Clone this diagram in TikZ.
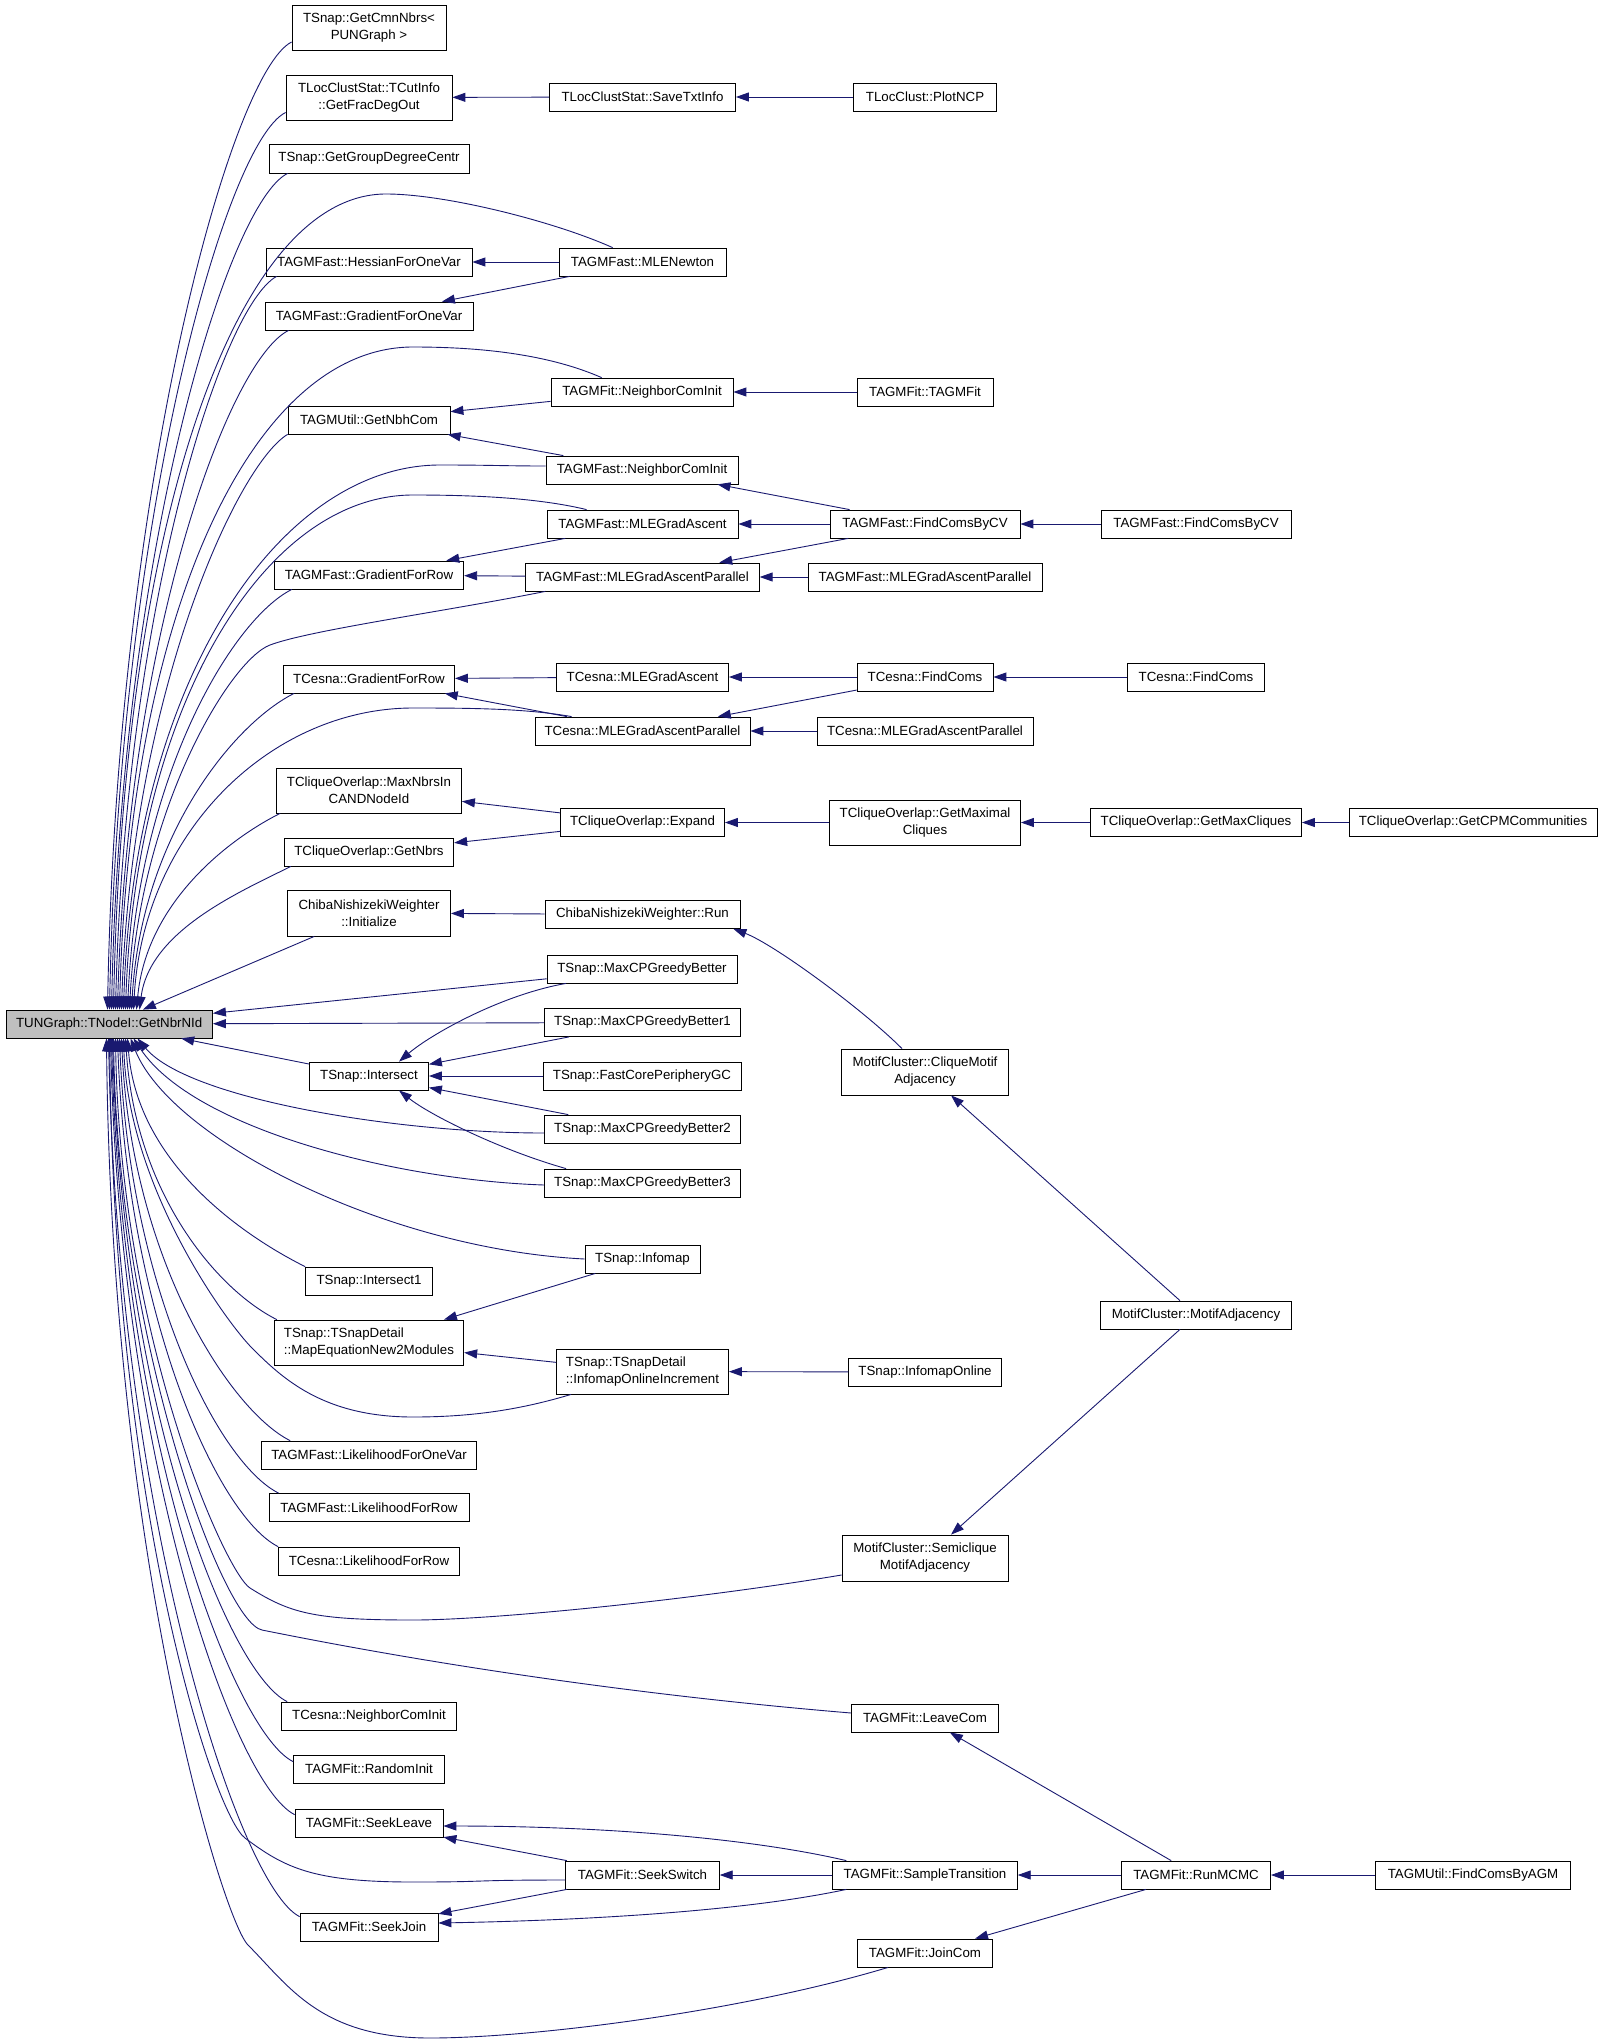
\documentclass[tikz,border=0pt]{standalone}
\usepackage{fontspec}
\setmainfont{Liberation Sans}
\usetikzlibrary{arrows.meta}
\definecolor{edgeblue}{HTML}{191970}
\definecolor{rootgray}{HTML}{BFBFBF}
\begin{document}
\begin{tikzpicture}[x=1pt,y=-1pt,
  fn/.style={draw=black, line width=0.8pt, fill=white, inner sep=0pt,
    minimum height=28pt, align=center, font=\fontsize{13.3}{17}\selectfont},
  fntwo/.style={fn, minimum height=45pt},
  calledge/.style={draw=edgeblue, line width=0.9pt, -{Triangle[length=13pt,width=9pt]}}]
\fill[white] (0,0) rectangle (1603,2044);
\useasboundingbox (0,0) rectangle (1603,2044);

% ---------- root ----------
\node[fn, fill=rootgray, minimum width=206.6pt] (root) at (109.2,1024) {TUNGraph::TNodeI::GetNbrNId};

% ---------- column 1 ----------
\node[fntwo, minimum width=154pt] (cmn) at (369,28) {TSnap::GetCmnNbrs<\\PUNGraph >};
\node[fntwo, minimum width=166pt] (frac) at (369,97.5) {TLocClustStat::TCutInfo\\::GetFracDegOut};
\node[fn, minimum width=200pt, minimum height=29pt] (grpdeg) at (369,158.5) {TSnap::GetGroupDegreeCentr};
\node[fn, minimum width=206pt] (hess) at (369,262) {TAGMFast::HessianForOneVar};
\node[fn, minimum width=208pt] (gradov) at (369,316) {TAGMFast::GradientForOneVar};
\node[fn, minimum width=162pt] (nbh) at (369,420) {TAGMUtil::GetNbhCom};
\node[fn, minimum width=189.5pt] (fgrad) at (369,575) {TAGMFast::GradientForRow};
\node[fn, minimum width=171pt] (cgrad) at (369,679) {TCesna::GradientForRow};
\node[fntwo, minimum width=185pt] (maxnbrs) at (369,790.5) {TCliqueOverlap::MaxNbrsIn\\CANDNodeId};
\node[fn, minimum width=169.5pt] (getnbrs) at (369,852) {TCliqueOverlap::GetNbrs};
\node[fntwo, minimum width=163pt, minimum height=46pt] (cinit) at (369,913) {ChibaNishizekiWeighter\\::Initialize};
\node[fn, minimum width=119pt] (inter) at (369,1076) {TSnap::Intersect};
\node[fn, minimum width=127pt] (inter1) at (369,1281) {TSnap::Intersect1};
\node[fntwo, minimum width=189.5pt, align=left] (mapeq) at (369,1342.5) {TSnap::TSnapDetail\\::MapEquationNew2Modules};
\node[fn, minimum width=215pt] (likov) at (369,1455) {TAGMFast::LikelihoodForOneVar};
\node[fn, minimum width=200pt] (flikrow) at (369,1507.5) {TAGMFast::LikelihoodForRow};
\node[fn, minimum width=181pt] (clikrow) at (369,1561) {TCesna::LikelihoodForRow};
\node[fn, minimum width=175pt] (cnci) at (369,1716) {TCesna::NeighborComInit};
\node[fn, minimum width=151pt] (rinit) at (369,1769) {TAGMFit::RandomInit};
\node[fn, minimum width=148pt] (sleave) at (369,1823) {TAGMFit::SeekLeave};
\node[fn, minimum width=138pt] (sjoin) at (369,1927) {TAGMFit::SeekJoin};

% ---------- column 2 ----------
\node[fn, minimum width=186pt] (save) at (642.5,97) {TLocClustStat::SaveTxtInfo};
\node[fn, minimum width=167pt] (mlen) at (642.5,262) {TAGMFast::MLENewton};
\node[fn, minimum width=182pt] (fitnci) at (642,392) {TAGMFit::NeighborComInit};
\node[fn, minimum width=192pt] (fastnci) at (642,470) {TAGMFast::NeighborComInit};
\node[fn, minimum width=191pt] (fmlega) at (642.5,524) {TAGMFast::MLEGradAscent};
\node[fn, minimum width=233.5pt] (fmlegap) at (642.5,577) {TAGMFast::MLEGradAscentParallel};
\node[fn, minimum width=172pt] (cmlega) at (642.5,677) {TCesna::MLEGradAscent};
\node[fn, minimum width=215pt] (cmlegap) at (642.5,731) {TCesna::MLEGradAscentParallel};
\node[fn, minimum width=164pt] (expand) at (642.5,822.5) {TCliqueOverlap::Expand};
\node[fn, minimum width=195pt] (run) at (642.5,914.5) {ChibaNishizekiWeighter::Run};
\node[fn, minimum width=190pt] (mcp) at (642,969) {TSnap::MaxCPGreedyBetter};
\node[fn, minimum width=196pt] (mcp1) at (642.5,1022.5) {TSnap::MaxCPGreedyBetter1};
\node[fn, minimum width=198pt] (fcp) at (642,1076) {TSnap::FastCorePeripheryGC};
\node[fn, minimum width=196pt] (mcp2) at (642.5,1129) {TSnap::MaxCPGreedyBetter2};
\node[fn, minimum width=196pt] (mcp3) at (642.5,1183) {TSnap::MaxCPGreedyBetter3};
\node[fn, minimum width=115pt] (infomap) at (642.5,1259) {TSnap::Infomap};
\node[fntwo, minimum width=172pt, align=left] (ioinc) at (642.5,1371.5) {TSnap::TSnapDetail\\::InfomapOnlineIncrement};
\node[fn, minimum width=153.6pt] (sswitch) at (642.5,1875) {TAGMFit::SeekSwitch};

% ---------- column 3 ----------
\node[fn, minimum width=143pt] (plotncp) at (925,97) {TLocClust::PlotNCP};
\node[fn, minimum width=136pt] (tagmfit) at (925,392) {TAGMFit::TAGMFit};
\node[fn, minimum width=190pt] (fcv1) at (925,524) {TAGMFast::FindComsByCV};
\node[fn, minimum width=234pt] (fmlegap2) at (925,577) {TAGMFast::MLEGradAscentParallel};
\node[fn, minimum width=136pt] (cfind1) at (925,677) {TCesna::FindComs};
\node[fn, minimum width=216pt] (cmlegap2) at (925,731) {TCesna::MLEGradAscentParallel};
\node[fntwo, minimum width=191pt] (maxcliq) at (925,822.5) {TCliqueOverlap::GetMaximal\\Cliques};
\node[fntwo, minimum width=167pt, minimum height=46pt] (cliquem) at (925,1072) {MotifCluster::CliqueMotif\\Adjacency};
\node[fn, minimum width=152.5pt] (ioonline) at (925,1372) {TSnap::InfomapOnline};
\node[fntwo, minimum width=166pt, minimum height=46pt] (semi) at (925,1558) {MotifCluster::Semiclique\\MotifAdjacency};
\node[fn, minimum width=147pt] (leave) at (925,1718) {TAGMFit::LeaveCom};
\node[fn, minimum width=184.6pt] (stran) at (925,1875) {TAGMFit::SampleTransition};
\node[fn, minimum width=135pt] (join) at (925,1953) {TAGMFit::JoinCom};

% ---------- column 4 ----------
\node[fn, minimum width=190pt] (fcv2) at (1196,524) {TAGMFast::FindComsByCV};
\node[fn, minimum width=136.5pt] (cfind2) at (1196,677) {TCesna::FindComs};
\node[fn, minimum width=211pt] (maxcl2) at (1196,822.5) {TCliqueOverlap::GetMaxCliques};
\node[fn, minimum width=191pt] (motifadj) at (1196,1315) {MotifCluster::MotifAdjacency};
\node[fn, minimum width=149pt] (runmcmc) at (1196,1875) {TAGMFit::RunMCMC};

% ---------- column 5 ----------
\node[fn, minimum width=248pt] (cpm) at (1473,822.5) {TCliqueOverlap::GetCPMCommunities};
\node[fn, minimum width=195pt] (agm) at (1473,1875) {TAGMUtil::FindComsByAGM};

% ================= edges into root (from above) =================
\draw[calledge] ([yshift=-14pt]cmn.west) .. controls +(-60,30) and +(10,-532) .. ([xshift=102pt]root.north west);
\draw[calledge] ([yshift=-15pt]frac.west) .. controls +(-60,30) and +(10,-493) .. ([xshift=104pt]root.north west);
\draw[calledge] ([xshift=19pt]grpdeg.south west) .. controls +(-60,30) and +(10,-460) .. ([xshift=106pt]root.north west);
\draw[calledge] ([xshift=54pt]mlen.north west) .. controls +(-58,-26) and +(60,0) .. (386,194) .. controls +(-150,0) and +(10,-490) .. ([xshift=108pt]root.north west);
\draw[calledge] ([xshift=11pt]hess.south west) .. controls +(-55,30) and +(10,-404) .. ([xshift=110pt]root.north west);
\draw[calledge] ([xshift=24pt]gradov.south west) .. controls +(-60,30) and +(10,-374) .. ([xshift=112pt]root.north west);
\draw[calledge] ([xshift=51pt]fitnci.north west) .. controls +(-57,-25) and +(60,0) .. (413,347) .. controls +(-160,0) and +(10,-400) .. ([xshift=114pt]root.north west);
\draw[calledge] (nbh.south west) .. controls +(-50,30) and +(10,-317) .. ([xshift=116pt]root.north west);
\draw[calledge] ([yshift=4pt]fastnci.west) .. controls +(-40,0) and +(50,0) .. (440,465) .. controls +(-160,0) and +(10,-330) .. ([xshift=118pt]root.north west);
\draw[calledge] ([xshift=40pt]fmlega.north west) .. controls +(-50,-12) and +(60,0) .. (413,495) .. controls +(-150,0) and +(10,-300) .. ([xshift=120pt]root.north west);
\draw[calledge] ([xshift=18pt]fgrad.south west) .. controls +(-60,30) and +(10,-232) .. ([xshift=122pt]root.north west);
\draw[calledge] ([xshift=20pt]fmlegap.south west) .. controls +(-100,20) and +(40,-15) .. (270,645) .. controls +(-40,15) and +(10,-200) .. ([xshift=124pt]root.north west);
\draw[calledge] ([xshift=11pt]cgrad.south west) .. controls +(-60,30) and +(10,-174) .. ([xshift=126pt]root.north west);
\draw[calledge] ([xshift=37pt]cmlegap.north west) .. controls +(-45,-8) and +(60,0) .. (413,708) .. controls +(-140,0) and +(10,-180) .. ([xshift=128pt]root.north west);
\draw[calledge] ([xshift=4pt]maxnbrs.south west) .. controls +(-50,25) and +(10,-108) .. ([xshift=131pt]root.north west);
\draw[calledge] ([xshift=7pt]getnbrs.south west) .. controls +(-50,25) and +(10,-79) .. ([xshift=134pt]root.north west);
\draw[calledge] (cinit) -- (root);
\draw[calledge] (mcp) -- (root);
\draw[calledge] (mcp1) -- (root);
\draw[calledge] (inter) -- (root);

% ================= edges into root (from below) =================
\draw[calledge] ([yshift=-4pt]mcp2.west) .. controls +(-150,0) and +(50,60) .. ([xshift=132pt]root.south west);
\draw[calledge] ([yshift=-2pt]mcp3.west) .. controls +(-150,-5) and +(60,90) .. ([xshift=128pt]root.south west);
\draw[calledge] (infomap.west) .. controls +(-200,-10) and +(40,100) .. ([xshift=125pt]root.south west);
\draw[calledge] (inter1.north west) .. controls +(-60,-30) and +(10,126) .. ([xshift=122pt]root.south west);
\draw[calledge] ([xshift=3pt]mapeq.north west) .. controls +(-60,-30) and +(10,155) .. ([xshift=120pt]root.south west);
\draw[calledge] ([xshift=15pt]ioinc.south west) .. controls +(-50,15) and +(60,0) .. (413,1417) .. controls +(-90,0) and +(30,30) .. (252,1348) .. controls +(-25,-25) and +(5,150) .. ([xshift=118pt]root.south west);
\draw[calledge] ([xshift=29pt]likov.north west) .. controls +(-60,-30) and +(10,221) .. ([xshift=116pt]root.south west);
\draw[calledge] ([xshift=10pt]flikrow.north west) .. controls +(-60,-30) and +(10,250) .. ([xshift=114pt]root.south west);
\draw[calledge] (clikrow.north west) .. controls +(-60,-30) and +(10,280) .. ([xshift=112pt]root.south west);
\draw[calledge] ([yshift=-17pt]semi.west) .. controls +(-150,25) and +(80,0) .. (413,1620) .. controls +(-100,0) and +(40,25) .. (250,1588) .. controls +(-25,-16) and +(5,300) .. ([xshift=110pt]root.south west);
\draw[calledge] ([yshift=5pt]leave.west) .. controls +(-300,-25) and +(60,12) .. (262,1630) .. controls +(-40,-8) and +(5,300) .. ([xshift=108pt]root.south west);
\draw[calledge] ([xshift=6pt]cnci.north west) .. controls +(-60,-30) and +(10,365) .. ([xshift=107pt]root.south west);
\draw[calledge] ([yshift=-7pt]rinit.north west) .. controls +(-60,-30) and +(10,398) .. ([xshift=106pt]root.south west);
\draw[calledge] ([yshift=-6pt]sleave.north west) .. controls +(-60,-30) and +(10,427) .. ([xshift=105pt]root.south west);
\draw[calledge] ([yshift=-5pt]sswitch.west) .. controls +(-100,0) and +(80,0) .. (413,1882) .. controls +(-100,0) and +(40,30) .. (245,1838) .. controls +(-30,-22) and +(5,480) .. ([xshift=104pt]root.south west);
\draw[calledge] ([yshift=-4pt]sjoin.north west) .. controls +(-60,-30) and +(10,483) .. ([xshift=103pt]root.south west);
\draw[calledge] ([xshift=31pt]join.south west) .. controls +(-150,45) and +(100,0) .. (430,2038) .. controls +(-110,0) and +(40,40) .. (248,1945) .. controls +(-25,-25) and +(5,520) .. ([xshift=101pt]root.south west);

% ================= other edges =================
\draw[calledge] (save) -- (frac);
\draw[calledge] (plotncp) -- (save);
\draw[calledge] (mlen) -- (hess);
\draw[calledge] (mlen) -- (gradov);
\draw[calledge] (fitnci) -- (nbh);
\draw[calledge] (fastnci) -- (nbh);
\draw[calledge] (tagmfit) -- (fitnci);
\draw[calledge] (fcv1) -- (fastnci);
\draw[calledge] (fcv1) -- (fmlega);
\draw[calledge] (fcv1) -- (fmlegap);
\draw[calledge] (fcv2) -- (fcv1);
\draw[calledge] (fmlegap2) -- (fmlegap);
\draw[calledge] (fmlega) -- (fgrad);
\draw[calledge] (fmlegap) -- (fgrad);
\draw[calledge] (cmlega) -- (cgrad);
\draw[calledge] (cmlegap) -- (cgrad);
\draw[calledge] (cfind1) -- (cmlega);
\draw[calledge] (cfind1) -- (cmlegap);
\draw[calledge] (cfind2) -- (cfind1);
\draw[calledge] (cmlegap2) -- (cmlegap);
\draw[calledge] (expand) -- (maxnbrs);
\draw[calledge] (expand) -- (getnbrs);
\draw[calledge] (maxcliq) -- (expand);
\draw[calledge] (maxcl2) -- (maxcliq);
\draw[calledge] (cpm) -- (maxcl2);
\draw[calledge] (run) -- (cinit);
\draw[calledge] ([xshift=-23pt]cliquem.north) .. controls +(-40,-40) and +(40,15) .. ([xshift=-7pt]run.south east);
\draw[calledge] ([xshift=19.5pt]mcp.south west) .. controls (500,995) and (430,1035) .. ([xshift=30pt]inter.north);
\draw[calledge] (mcp1) -- (inter);
\draw[calledge] (fcp) -- (inter);
\draw[calledge] (mcp2) -- (inter);
\draw[calledge] ([xshift=22pt]mcp3.north west) .. controls (500,1150) and (430,1115) .. ([xshift=30pt]inter.south);
\draw[calledge] (motifadj) -- (cliquem);
\draw[calledge] (motifadj) -- (semi);
\draw[calledge] (infomap) -- (mapeq);
\draw[calledge] (ioinc) -- (mapeq);
\draw[calledge] (ioonline) -- (ioinc);
\draw[calledge] (runmcmc) -- (leave);
\draw[calledge] ([xshift=14pt]stran.north west) .. controls (750,1838) and (600,1826) .. ([yshift=-3pt]sleave.east);
\draw[calledge] (sswitch) -- (sleave);
\draw[calledge] (stran) -- (sswitch);
\draw[calledge] (runmcmc) -- (stran);
\draw[calledge] (agm) -- (runmcmc);
\draw[calledge] (runmcmc) -- (join);
\draw[calledge] (sswitch) -- (sjoin);
\draw[calledge] ([xshift=14pt]stran.south west) .. controls (750,1910) and (600,1920) .. ([yshift=4pt]sjoin.east);
\end{tikzpicture}
\end{document}
